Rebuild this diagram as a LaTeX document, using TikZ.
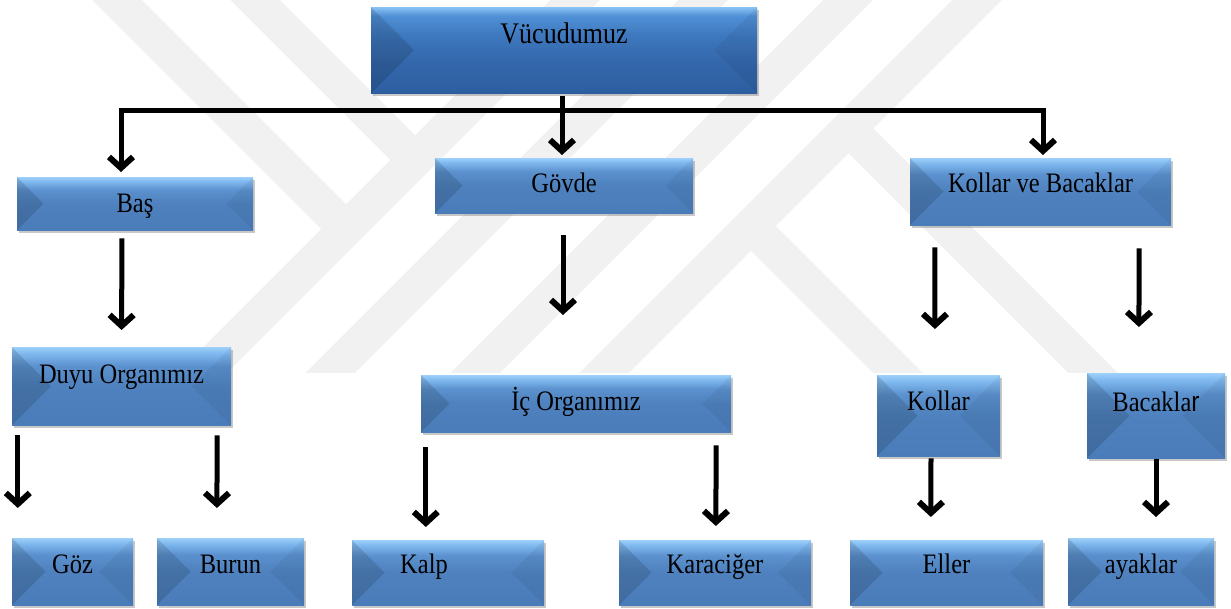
\documentclass[tikz,border=0pt]{standalone}
\usepackage{fontspec}
\setmainfont{Liberation Serif}
\newfontfamily\sansr{Liberation Sans}
\usetikzlibrary{arrows.meta,calc,shadows}
\definecolor{wmgray}{RGB}{241,241,241}
\definecolor{bAa}{HTML}{4A7CB9}
\definecolor{bAb}{HTML}{4E81BE}
\definecolor{bAc}{HTML}{5B91CE}
\definecolor{bAd}{HTML}{7FB8EE}
\definecolor{bAe}{HTML}{9CD0FA}
\definecolor{bVa}{HTML}{2D5EA0}
\definecolor{bVb}{HTML}{3366AA}
\definecolor{bVc}{HTML}{3D77BD}
\definecolor{bVd}{HTML}{5090D6}
\definecolor{bVe}{HTML}{88C2F5}
\pgfdeclareverticalshading{bevA}{100bp}{color(0bp)=(bAa); color(25bp)=(bAa); color(50bp)=(bAb); color(63bp)=(bAc); color(71bp)=(bAd); color(75bp)=(bAe); color(100bp)=(bAe)}
\pgfdeclareverticalshading{bevV}{100bp}{color(0bp)=(bVa); color(25bp)=(bVa); color(42bp)=(bVb); color(58bp)=(bVc); color(70bp)=(bVd); color(75bp)=(bVe); color(100bp)=(bVe)}
\newcommand\sbx[1]{\scalebox{1}[1.15]{#1}}
\tikzset{
  wm/.style={wmgray, line width=35pt, line cap=butt},
  bev/.style={rectangle, inner sep=0pt, anchor=north, shading=bevA,
    font=\fontsize{24.5}{28}\selectfont,
    drop shadow={shadow xshift=1.5pt, shadow yshift=-3pt, opacity=.3, fill=black!70},
    path picture={
      \path (path picture bounding box.south west) coordinate (ppsw)
            (path picture bounding box.north east) coordinate (ppne);
      \fill[black, opacity=.13] let \p1=(ppsw), \p2=(ppne), \n1={(\y2-\y1)/2} in
        (\x1,\y1) -- ({\x1+\n1},{\y1+\n1}) -- (\x1,\y2) -- cycle;
      \fill[black, opacity=.05] let \p1=(ppsw), \p2=(ppne), \n1={(\y2-\y1)/2} in
        (\x2,\y1) -- ({\x2-\n1},{\y1+\n1}) -- (\x2,\y2) -- cycle;
    }},
  bevtop/.style={bev, shading=bevV, font=\fontsize{26}{30}\selectfont},
  arr/.style={line width=5pt, -{Straight Barb[length=11pt,width=24pt,line width=6pt]}}
}
\begin{document}
\begin{tikzpicture}[x=1pt,y=-1pt]
\useasboundingbox (0,0) rectangle (1231,609);
\fill[white] (0,0) rectangle (1231,609);
% watermark
\begin{scope}
\clip (0,0) rectangle (1231,372);
\draw[wm] (605,-30) -- (175,400);
\draw[wm] (87,-30) -- (346,229);
\draw[wm] (225,-30) -- (415,160);
\draw[wm] (733,-30) -- (303,400);
\draw[wm] (878,-30) -- (448,400);
\draw[wm] (1007,-30) -- (577,400);
\draw[wm] (751,226) -- (925,400);
\draw[wm] (848.5,128.5) -- (1120,400);
\end{scope}
% boxes
\node[bevtop, minimum width=386pt, text height=36pt, text depth=50pt] (vuc) at (564,7) {\sbx{Vücudumuz}};
\node[bev, minimum width=236pt, text height=35pt, text depth=18pt] (bas) at (135,177) {\sbx{Baş}};
\node[bev, minimum width=258pt, text height=34pt, text depth=21pt] (gov) at (564,158) {\sbx{Gövde}};
\node[bev, minimum width=261pt, text height=34pt, text depth=33pt] (kvb) at (1040.5,158) {\sbx{Kollar ve Bacaklar}};
\node[bev, minimum width=219pt, text height=36pt, text depth=42pt] (duyu) at (121.5,347) {\sbx{Duyu Organımız}};
\node[bev, minimum width=310pt, text height=35pt, text depth=22pt] (ic) at (576,375) {\sbx{İç Organımız}};
\node[bev, minimum width=123pt, text height=35pt, text depth=46pt] (kol) at (938.5,375) {\sbx{Kollar}};
\node[bev, minimum width=138pt, text height=38pt, text depth=47pt] (bac) at (1156,373) {\sbx{Bacakla{\sansr r}}};
\node[bev, minimum width=121pt, text height=35pt, text depth=32pt] (goz) at (72.5,538) {\sbx{Göz}};
\node[bev, minimum width=147pt, text height=35pt, text depth=32pt] (bur) at (230.5,538) {\sbx{Burun}};
\node[bev, minimum width=192pt, text height=33pt, text depth=32pt] (kal) at (448,540) {\kern-24pt\sbx{Kalp}\kern24pt};
\node[bev, minimum width=192pt, text height=33pt, text depth=32pt] (kar) at (715,540) {\sbx{Karaciğer}};
\node[bev, minimum width=193pt, text height=33pt, text depth=32pt] (ell) at (946.5,540) {\sbx{Eller}};
\node[bev, minimum width=146pt, text height=35pt, text depth=32pt] (aya) at (1141,538) {\sbx{ayaklar}};
% connectors
\coordinate (bus) at ([yshift=-17pt]vuc.south);
\draw[arr, shorten <=3pt, shorten >=3pt] ([xshift=-2pt]vuc.south) -- ([xshift=-2pt]vuc.south |- gov.north);
\draw[arr, shorten >=5pt] ([xshift=-2pt]bus) -| ([xshift=-14pt]bas.north);
\draw[arr, shorten >=3pt] ([xshift=-2pt]bus) -| ([xshift=2.5pt]kvb.north);
\draw[arr, shorten <=8pt, shorten >=17pt] ([xshift=-13pt]bas.south) -- (duyu.north);
\draw[arr, shorten <=22pt, shorten >=60pt] ([xshift=-1pt]gov.south) -- ([xshift=-13pt]ic.north);
\draw[arr, shorten <=22pt, shorten >=46pt] ([xshift=25pt]kvb.south west) -- ([xshift=-3.5pt]kol.north);
\draw[arr, shorten <=23pt, shorten >=46pt] ([xshift=-32pt]kvb.south east) -- ([xshift=52pt]bac.north west);
\draw[arr, shorten <=10pt, shorten >=30pt] ([xshift=6pt]duyu.south west) -- ([xshift=6pt]goz.north west);
\draw[arr, shorten <=10pt, shorten >=30pt] ([xshift=-14pt]duyu.south east) -- ([xshift=60pt]bur.north west);
\draw[arr, shorten <=15pt, shorten >=13pt] ([xshift=5pt]ic.south west) -- ([xshift=74pt]kal.north west);
\draw[arr, shorten <=13pt, shorten >=14pt] ([xshift=-15pt]ic.south east) -- ([xshift=97pt]kar.north west);
\draw[arr, shorten <=2pt, shorten >=23pt] ([xshift=-7.5pt]kol.south) -- ([xshift=81pt]ell.north west);
\draw[arr, shorten <=1pt, shorten >=21pt] (bac.south) -- ([xshift=15pt]aya.north);
\end{tikzpicture}
\end{document}
